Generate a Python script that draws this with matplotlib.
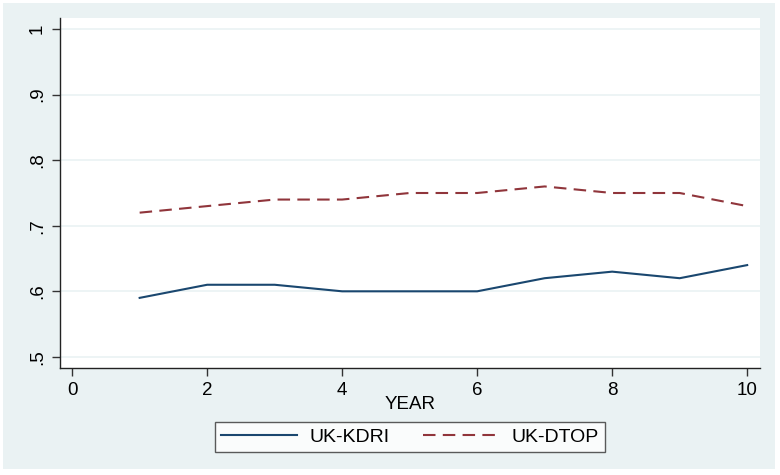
import matplotlib.pyplot as plt
from matplotlib.patches import Rectangle

years = [1, 2, 3, 4, 5, 6, 7, 8, 9, 10]
uk_kdri = [0.59, 0.61, 0.61, 0.60, 0.60, 0.60, 0.62, 0.63, 0.62, 0.64]
uk_dtop = [0.72, 0.73, 0.74, 0.74, 0.75, 0.75, 0.76, 0.75, 0.75, 0.73]
yticks = [0.5, 0.6, 0.7, 0.8, 0.9, 1.0]
ytick_labels = ['.5', '.6', '.7', '.8', '.9', '1']
xticks = [0, 2, 4, 6, 8, 10]

plt.rcParams['font.family'] = ['Liberation Sans', 'DejaVu Sans']
bg = '#eaf2f3'

fig = plt.figure(figsize=(7.8, 4.75), dpi=100, facecolor='white')
fig.patches.append(Rectangle((0.004, 0.012), 0.99, 0.982, transform=fig.transFigure,
                             facecolor=bg, edgecolor='none', zorder=-10))
ax = fig.add_axes([60 / 780, 1 - 368 / 475, 700 / 780, 350 / 475])
ax.set_facecolor('white')

ax.plot(years, uk_kdri, color='#1a476f', lw=1.5, label='UK-KDRI')
ax.plot(years, uk_dtop, color='#90353b', lw=1.5, ls=(0, (6, 3.5)), label='UK-DTOP')

ax.set_xlim(-0.18, 10.19)
ax.set_ylim(0.483, 1.017)
ax.set_xticks(xticks)
ax.set_yticks(yticks)
ax.set_yticklabels(ytick_labels, rotation=90, va='center')
ax.tick_params(axis='both', labelsize=13.5, length=6, width=1, color='#333333', pad=4)
ax.grid(axis='y', color=bg, lw=1.2)
ax.set_axisbelow(True)
for side in ['top', 'right']:
    ax.spines[side].set_visible(False)
for side in ['left', 'bottom']:
    ax.spines[side].set_color('#222222')
    ax.spines[side].set_linewidth(1)

ax.set_xlabel('YEAR', fontsize=13.5, labelpad=-2)

leg = fig.legend(loc='center', bbox_to_anchor=(410 / 780, 1 - 437 / 475), ncol=2,
                 fontsize=14, frameon=True, fancybox=False, handlelength=3.9,
                 handletextpad=0.65, columnspacing=1.7, borderpad=0.3)
leg.get_frame().set_edgecolor('#333333')
leg.get_frame().set_linewidth(1)

fig.savefig('out.png', dpi=100, facecolor=fig.get_facecolor())
